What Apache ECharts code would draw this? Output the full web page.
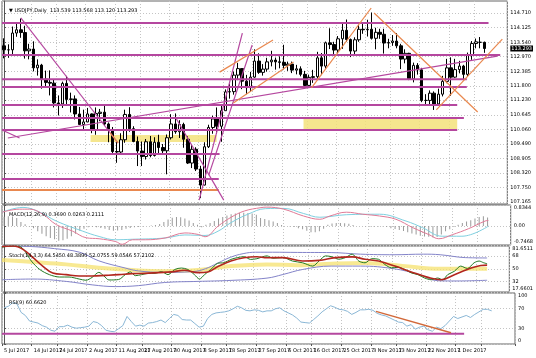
<!DOCTYPE html>
<html><head><meta charset="utf-8">
<script src="https://cdn.jsdelivr.net/npm/echarts@6/dist/echarts.min.js"></script>
<style>html,body{margin:0;padding:0;background:#fff}#c{width:536px;height:358px}</style>
</head><body><div id="c"></div>
<script>
// ---------- categories ----------
const julDays = [5,6,7,10,11,12,13,14,17,18,19,20,21,24,25,26,27,28,31];
const augDays = [1,2,3,4,7,8,9,10,11,14,15,16,17,18,21,22,23,24,25,28,29,30,31];
const sepDays = [1,4,5,6,7,8,11,12,13,14,15,18,19,20,21,22,25,26,27,28,29];
const octDays = [2,3,4,5,6,9,10,11,12,13,16,17,18,19,20,23,24,25,26,27,30,31];
const novDays = [1,2,3,6,7,8,9,10,13,14,15,16,17,20,21,22,23,24,27,28,29,30];
const decDays = [1,4,5,6,7,8,11,12,13];
const futureDates = ['14 Dec 2017','15 Dec 2017','18 Dec 2017','19 Dec 2017','20 Dec 2017'];
const dates = [].concat(
  julDays.map(d => d + ' Jul 2017'), augDays.map(d => d + ' Aug 2017'),
  sepDays.map(d => d + ' Sep 2017'), octDays.map(d => d + ' Oct 2017'),
  novDays.map(d => d + ' Nov 2017'), decDays.map(d => d + ' Dec 2017'));
const allDates = dates.concat(futureDates);
const tickDates = ['5 Jul 2017','14 Jul 2017','24 Jul 2017','2 Aug 2017','11 Aug 2017','21 Aug 2017','30 Aug 2017','8 Sep 2017','18 Sep 2017','27 Sep 2017','6 Oct 2017','16 Oct 2017','25 Oct 2017','3 Nov 2017','13 Nov 2017','22 Nov 2017','1 Dec 2017','11 Dec 2017'];

// ---------- prices ----------
const opens = [
113.40,113.24,113.24,113.91,114.04,113.93,113.20,113.27,112.52,112.63,
112.07,111.94,111.91,111.12,111.08,111.90,111.26,111.28,110.68,110.26,
110.36,110.68,110.04,110.70,110.75,110.28,110.05,109.18,109.16,109.65,
110.66,110.09,109.58,109.20,108.98,109.57,109.02,109.55,109.34,109.21,
109.73,110.28,109.97,110.26,109.67,108.72,109.27,108.48,107.84,109.37,
110.14,110.48,110.19,110.81,111.56,111.57,112.23,112.49,111.99,111.73,
112.15,112.79,112.34,112.47,112.76,112.83,112.76,112.74,112.62,112.67,
112.43,112.48,112.26,111.82,112.14,112.17,112.92,112.59,113.52,113.45,
113.23,113.68,114.02,113.65,113.19,113.64,114.06,114.04,114.06,113.70,
113.94,113.86,113.51,113.53,113.59,113.40,112.87,113.10,112.08,112.62,
112.44,111.22,111.22,111.51,111.08,111.47,111.98,112.52,112.15,112.45,
112.59,112.26,113.05,113.49,113.54,113.539];
const highs = [
113.70,113.46,114.17,114.31,114.49,114.20,113.48,113.58,112.86,112.68,
112.41,112.42,112.04,111.42,111.97,112.20,111.53,111.42,110.96,110.85,
110.92,110.70,110.94,110.88,111.05,110.34,110.16,109.58,109.91,110.85,
110.95,110.19,109.78,109.58,109.68,109.80,109.75,109.85,109.48,109.86,
110.67,110.70,110.43,110.33,109.79,109.47,109.35,108.61,109.55,110.25,
110.61,110.94,111.02,111.66,111.88,112.37,112.72,112.50,112.24,112.36,
113.26,113.10,112.67,112.92,113.20,112.93,112.98,113.44,112.77,112.77,
112.64,112.58,112.40,112.25,112.44,113.16,113.11,113.57,114.10,113.56,
113.79,114.29,114.45,113.69,113.74,114.24,114.34,114.44,114.73,114.12,
114.08,114.08,113.68,113.83,113.91,113.48,113.26,113.12,112.73,112.71,
112.52,111.47,111.62,111.58,111.69,112.20,112.88,112.94,112.88,112.80,
112.64,113.13,113.59,113.69,113.75,113.568];
const lows = [
112.90,112.92,113.06,113.76,113.72,112.89,112.86,112.38,112.21,111.69,
111.79,111.42,110.94,110.62,110.92,111.02,110.74,110.46,110.25,110.06,
110.35,109.91,109.85,110.39,110.20,109.55,109.05,108.73,109.07,109.53,
109.97,109.55,108.60,108.60,108.86,108.95,108.98,109.11,109.07,108.27,
109.66,109.89,109.72,109.33,108.68,108.52,108.40,107.32,107.83,109.32,
109.89,109.88,109.57,110.81,111.29,111.45,112.03,111.67,111.47,111.56,
112.12,112.28,112.21,112.37,112.58,112.45,112.50,112.46,112.40,112.31,
112.26,112.18,111.69,111.81,111.92,112.09,112.23,112.49,113.27,113.03,
113.10,113.28,113.56,112.95,113.03,113.56,113.88,113.77,113.65,113.26,
113.68,113.09,113.30,113.40,113.30,112.47,112.70,112.03,111.94,112.25,
111.15,111.07,111.06,110.84,111.00,111.38,111.91,111.40,112.12,112.30,
112.03,112.17,112.84,113.30,113.30,113.120];
const closes = [
113.24,113.24,113.91,114.04,113.93,113.20,113.27,112.52,112.63,112.07,
111.94,111.91,111.12,111.08,111.90,111.26,111.28,110.68,110.26,110.36,
110.68,110.04,110.70,110.75,110.28,110.05,109.18,109.16,109.65,110.66,
110.09,109.58,109.20,108.98,109.57,109.02,109.55,109.34,109.21,109.73,
110.28,109.97,110.26,109.67,108.72,109.27,108.48,107.84,109.37,110.14,
110.48,110.19,110.81,111.56,111.57,112.23,112.49,111.99,111.73,112.15,
112.79,112.34,112.47,112.76,112.83,112.76,112.74,112.62,112.67,112.43,
112.48,112.26,111.82,112.14,112.17,112.92,112.59,113.52,113.45,113.23,
113.68,114.02,113.65,113.19,113.64,114.06,114.04,114.06,113.70,113.94,
113.86,113.51,113.53,113.59,113.40,112.87,113.10,112.08,112.62,112.44,
111.22,111.22,111.51,111.08,111.47,111.98,112.52,112.15,112.45,112.59,
112.26,113.05,113.49,113.56,113.54,113.293];
const lastPrice = 113.293;
const mainTicks = [114.710,114.125,113.540,112.970,112.385,111.800,111.230,110.645,110.060,109.490,108.905,108.320,107.750,107.165];

// drawn objects (index on date axis, price)
const purpleLevels = [[114.31,-0.5,116.0],[113.03,-0.5,118.8],[112.07,-0.5,110.8],[111.76,-0.5,110.8],[111.04,-0.5,108.5],[110.52,-0.5,110.1],[110.04,-0.5,108.5],[109.08,-0.5,51.6],[108.08,-0.5,51.4]];
const orangeLevels = [[107.64,-0.5,51.4]];
const purpleTrends = [[4.0,114.52,27.3,109.52],[-0.5,110.04,3.7,109.72],[0.9,109.72,118.1,112.99],[41.0,110.56,52.6,107.24],[46.7,107.24,57.05,113.91],[49.0,108.24,59.4,113.43]];
const orangeTrends = [[51.6,112.35,64.4,113.63],[54.9,111.12,69.3,112.75],[73.6,111.72,87.9,114.91],[88.6,114.71,113.4,110.76],[103.5,110.84,119.3,113.67],[25.4,109.92,27.3,109.52]];
const zones = [[20.7,109.84,50.9,109.56],[71.7,110.50,108.5,110.08]];

// ---------- MACD ----------
const macdTicks = [0.8344, 0, -0.7468];
const macdTickText = ['0.8344','0.00','-0.7468'];
const macdHist = [0.37,0.39,0.38,0.32,0.16,0.07,-0.02,-0.08,-0.2,-0.3,
-0.4,-0.47,-0.52,-0.58,-0.56,-0.5,-0.4,-0.3,-0.18,-0.1,
-0.05,-0.03,-0.05,-0.07,-0.1,-0.15,-0.18,-0.17,-0.15,-0.1,
-0.07,-0.05,-0.04,-0.02,0.0,0.02,0.04,0.08,0.16,0.26,
0.33,0.36,0.35,0.3,0.22,0.12,0.05,-0.05,0.05,0.12,
0.2,0.3,0.36,0.42,0.47,0.5,0.52,0.53,0.52,0.5,
0.45,0.32,0.28,0.23,0.18,0.12,0.04,0.0,-0.02,-0.04,
-0.08,-0.12,-0.18,-0.24,-0.24,-0.2,-0.1,0.05,0.1,0.12,
0.12,0.11,0.09,0.04,0.0,0.0,-0.02,-0.03,-0.03,-0.02,
-0.01,-0.04,-0.08,-0.11,-0.15,-0.19,-0.24,-0.29,-0.33,-0.38,
-0.41,-0.42,-0.45,-0.43,-0.33,-0.2,-0.12,-0.04,0.05,0.12,
0.18,0.23,0.3,0.36,0.39,0.34];
const macdMain = [[-0.5,0.55],[3.7,0.67],[6.1,0.67],[9.2,0.47],[12.4,0.06],[16.3,-0.2],[19.5,-0.46],[22.6,-0.5],[26.5,-0.61],[28.1,-0.72],[30.5,-0.54],[33.6,-0.54],[38.3,-0.47],[43,-0.27],[46.2,-0.33],[47.8,-0.42],[50.9,0],[54,0.35],[57.2,0.6],[61.1,0.73],[62.5,0.75],[66.5,0.67],[71.2,0.4],[75.1,0.27],[77.5,0.4],[81.4,0.55],[85.3,0.47],[89.3,0.4],[93.2,0.27],[97.2,-0.06],[101.1,-0.34],[103.4,-0.5],[106.6,-0.34],[110.5,-0.1],[114.4,0.2],[115.2,0.22]];
const macdSignal = [[-0.5,0.55],[4.5,0.74],[8.5,0.55],[12.4,0.2],[18.7,-0.2],[22.6,-0.41],[26.5,-0.54],[30.5,-0.52],[38.3,-0.47],[43,-0.35],[47.8,-0.37],[50.9,-0.2],[54,0.14],[58,0.47],[62.2,0.69],[66.5,0.7],[71.2,0.5],[75.1,0.35],[81.4,0.45],[89.3,0.47],[95.6,0.2],[99.5,-0.06],[104.2,-0.4],[108.9,-0.4],[115.2,0]];

// ---------- Stochastic ----------
const stochTicks = [81.6511, 68, 50, 32, 17.6601];
const stochTickText = ['81.6511','68','50','32','17.6601'];
const stochMain = [[-0.5,79.8],[1.4,81.6],[3.7,81],[4.9,75],[6.5,60.7],[8.5,49],[10.8,41.8],[13.2,38.5],[15.5,38.5],[17.9,35.7],[19.5,34],[21,38],[22.6,45],[23.8,40],[25,34.4],[27.3,35],[28.9,41.8],[30.1,45.6],[31.3,40.4],[32.8,41.8],[34.4,43.6],[36,43.6],[37.5,46],[39.1,41.8],[40.7,49],[42.3,51],[43.8,49],[45.4,41.8],[46.6,35.7],[47.8,41.8],[49.3,49],[50.9,57.5],[52.5,58.5],[54.1,63],[55.6,65.4],[57.2,66.8],[58.8,63],[60.3,64],[62.7,67.9],[64.1,64.6],[66.5,65.5],[68.8,60.7],[71.2,58.3],[73.6,53.7],[75.1,60.7],[76.7,67.9],[78.3,66.5],[79.8,63.2],[81.4,65.5],[83,70.3],[84.6,60.7],[86.1,58.3],[87.7,64],[89.3,63.2],[90.8,56],[92.4,51.3],[94,52],[95.6,49],[97.1,44.2],[98.7,41.8],[100.3,37.1],[101.9,34.7],[103.4,37.1],[104.6,34.7],[105.8,41.8],[107.4,46.5],[108.9,53.7],[110.5,50.4],[112.1,58.3],[113.3,60.7],[114.4,58.3],[115.2,57]];
const stochSignal = [[-0.5,81],[2.2,81.6],[4.5,77],[6.9,65.5],[9.2,53.7],[11.6,44.1],[14.8,41.8],[17.9,39.9],[21,39.9],[24.2,40.8],[27.3,41.8],[30.5,43.2],[33.6,43.6],[36.8,44.6],[39.9,45.6],[43,47.9],[46.2,44.6],[48.6,45.6],[50.9,52.7],[54.1,60.7],[57.2,65.4],[60.3,66.8],[62.7,65.4],[66.5,65.5],[71.2,60.7],[75.1,61.6],[79,65.5],[83,66.5],[86.1,63.2],[89.3,60.7],[93.2,53.7],[97.1,45.6],[101.1,38],[104.2,34.7],[107.4,41.8],[110.5,49],[113.7,54.6],[115.2,55]];
const stochSlow = [[-0.5,62.2],[6.9,59.4],[14.8,56.1],[22.6,51.3],[30.5,48.1],[38.3,46.6],[46.2,48.1],[54.1,53.7],[62.7,56],[70,55],[78,57],[86,58],[95,54],[104,50],[115.2,50]];
const stochUpper = [[-0.5,81.6],[6,81],[12,78],[18,73],[22.6,61],[28.9,51],[32,47],[38,45],[45,46],[48,50],[51,58],[54,66],[57,71],[60,73],[64,73],[70,72.7],[78,72.5],[85,70.3],[93,69.5],[100,70.3],[104,69.5],[110,65.5],[115.2,65]];
const stochLower = [[-0.5,34.7],[6.9,35.7],[14.8,32.4],[21,27.6],[26.5,25.2],[32,26.5],[38.3,30.9],[46.2,32.4],[54.1,33.8],[62.7,37],[66.5,42],[71.2,49],[78,53.7],[85,53.7],[93,50],[99,42],[103.5,33.3],[108,33],[115.2,34]];

// ---------- RSI ----------
const rsiTicks = [100, 70, 30, 0];
const rsiTickText = ['100','70','30','0'];
const rsi = [71,74,81,79,62,56,45,43,41,36, 33,27,25,34,34,37,33,31,32,33,
35,44,42,36,27,25,24,30,36,54, 44,35,37,35,41,42,44,47,42,50,
58,56,48,47,47,40,33,35,50,58, 61,62,63,65,69,74,71,66,65,67,
66,63,65,65,69,71,65,61,57,51, 43,42,41,48,55,63,69,75,72,68,
67,64,58,62,67,67,68,66,60,57, 55,51,47,43,42,35,38,29,33,35,
28,25,33,30,36,45,54,50,53,56, 52,58,63,68,68,65];
const rsiLevel = [[20,-0.5,108.5]];
const rsiTrend = [[87.7,64,105.4,22]];

// ---------- captions ----------
const captions = ['\u25BC USDJPY,Daily  113.539 113.568 113.120 113.293','MACD(12,26,9) 0.3690 0.0263 0.2111','Stoch(14,3,3) 64.5450 48.3890 52.0755 59.0546 57.2102','RSI(9) 60.6620'];

// ---------- build ----------
const PURPLE = '#b5479f', ORANGE = '#e9884f';
const FONT = 'DejaVu Sans';
const isTick = (i) => tickDates.indexOf(allDates[i]) >= 0;
const paneTops = [1, 205, 246, 293];
const paneHeights = [203, 40, 46, 51];

const grids = paneTops.map((t, i) => ({left: 2, top: t, width: 513, height: paneHeights[i], show: true, borderColor: '#666', borderWidth: 1, backgroundColor: '#fff'}));
const gridLine = {type: [1, 2], color: '#c4c4c4', width: 1};

const xAxes = [];
for (let g = 0; g < 4; g++) {
  xAxes.push({type: 'category', gridIndex: g, data: allDates, boundaryGap: true,
    axisLine: {show: false},
    axisTick: {show: g === 3, interval: isTick, length: 2, lineStyle: {color: '#555'}},
    axisLabel: {show: g === 3, interval: isTick, align: 'left', fontSize: 5, margin: 4, color: '#000', fontFamily: FONT},
    splitLine: {show: true, interval: isTick, lineStyle: gridLine}});
}
for (let g = 0; g < 4; g++) {
  xAxes.push({type: 'value', gridIndex: g, min: -0.5, max: allDates.length - 0.5, show: false});
}

function labelAxis(g, min, max, ticks, texts, extraLabels, fmtExtra) {
  const n = ticks.length;
  return {type: 'value', gridIndex: g, position: 'right', min: min, max: max, scale: true,
    axisLine: {show: true, lineStyle: {color: '#555'}},
    axisTick: {show: true, customValues: ticks, length: 2, lineStyle: {color: '#555'}},
    splitLine: {show: true, lineStyle: gridLine},
    axisLabel: {customValues: ticks.concat(extraLabels || []), fontSize: 5, margin: 3, color: '#000', fontFamily: FONT,
      formatter: function (v) {
        if (fmtExtra) { const r = fmtExtra(v); if (r) return r; }
        let idx = 0, best = Infinity;
        ticks.forEach((t, k) => { const d = Math.abs(t - v); if (d < best) { best = d; idx = k; } });
        const s = texts[idx];
        if (g === 0) return s;
        if (idx === 0) return '{dn|' + s + '}';
        if (idx === n - 1) return '{up|' + s + '}';
        return s;
      },
      rich: {
        dn: {padding: [6, 0, 0, 0], fontSize: 5, color: '#000', fontFamily: FONT},
        up: {padding: [0, 0, 6, 0], fontSize: 5, color: '#000', fontFamily: FONT},
        box: {backgroundColor: '#000', color: '#fff', padding: [1, 1, 0, 1], fontSize: 5, fontFamily: FONT}
      }}};
}

const yAxes = [
  labelAxis(0, 107.085, 115.189, mainTicks, mainTicks.map(v => v.toFixed(3)), [lastPrice],
    v => Math.abs(v - lastPrice) < 1e-6 ? '{box|' + lastPrice.toFixed(3) + '}' : null),
  labelAxis(1, macdTicks[2], macdTicks[0], macdTicks, macdTickText),
  labelAxis(2, stochTicks[4], stochTicks[0], stochTicks, stochTickText),
  labelAxis(3, 0, 100, rsiTicks, rsiTickText)
];

const series = [];
// zones (background)
series.push({type: 'line', xAxisIndex: 4, yAxisIndex: 0, data: [], silent: true, z: 1,
  markArea: {silent: true, itemStyle: {color: 'rgba(243,226,122,0.85)'},
    data: zones.map(z => [{coord: [z[0], z[1]]}, {coord: [z[2], z[3]]}])}});
// candles
series.push({type: 'candlestick', xAxisIndex: 0, yAxisIndex: 0, barWidth: 3, z: 3,
  data: opens.map((o, i) => [o, closes[i], lows[i], highs[i]]),
  itemStyle: {color: '#fff', color0: '#000', borderColor: '#000', borderColor0: '#000', borderWidth: 1}});
function seg(xi, yi, pts, color, width, z) {
  series.push({type: 'line', xAxisIndex: xi, yAxisIndex: yi, data: pts, symbol: 'none', silent: true, z: z || 5,
    lineStyle: {color: color, width: width}});
}
purpleLevels.forEach(l => seg(4, 0, [[l[1], l[0]], [l[2], l[0]]], PURPLE, 2));
orangeLevels.forEach(l => seg(4, 0, [[l[1], l[0]], [l[2], l[0]]], ORANGE, 2));
purpleTrends.forEach(t => seg(4, 0, [[t[0], t[1]], [t[2], t[3]]], PURPLE, 1.2));
orangeTrends.forEach(t => seg(4, 0, [[t[0], t[1]], [t[2], t[3]]], ORANGE, 1.2));

// MACD
series.push({type: 'bar', xAxisIndex: 1, yAxisIndex: 1, data: macdHist, barWidth: 1, itemStyle: {color: '#9a9a9a'}, silent: true});
series.push({type: 'line', xAxisIndex: 5, yAxisIndex: 1, data: macdSignal, symbol: 'none', smooth: 0.4, lineStyle: {color: '#7fd0e0', width: 1}});
series.push({type: 'line', xAxisIndex: 5, yAxisIndex: 1, data: macdMain, symbol: 'none', smooth: 0.4, lineStyle: {color: '#e07a96', width: 1}});

// Stochastic
series.push({type: 'line', xAxisIndex: 6, yAxisIndex: 2, data: stochSlow, symbol: 'none', smooth: 0.4, lineStyle: {color: 'rgba(245,225,110,0.75)', width: 4}});
series.push({type: 'line', xAxisIndex: 6, yAxisIndex: 2, data: stochUpper, symbol: 'none', smooth: 0.4, lineStyle: {color: '#8383c9', width: 1}});
series.push({type: 'line', xAxisIndex: 6, yAxisIndex: 2, data: stochLower, symbol: 'none', smooth: 0.4, lineStyle: {color: '#8383c9', width: 1}});
series.push({type: 'line', xAxisIndex: 6, yAxisIndex: 2, data: stochMain, symbol: 'none', smooth: 0.3, lineStyle: {color: '#237a23', width: 1}});
series.push({type: 'line', xAxisIndex: 6, yAxisIndex: 2, data: stochSignal, symbol: 'none', smooth: 0.4, lineStyle: {color: '#b3261e', width: 1.6}});

// RSI
rsiLevel.forEach(l => seg(7, 3, [[l[1], l[0]], [l[2], l[0]]], PURPLE, 2, 2));
series.push({type: 'line', xAxisIndex: 3, yAxisIndex: 3, data: rsi, symbol: 'none', lineStyle: {color: '#8ab7d6', width: 1}, z: 3});
rsiTrend.forEach(t => seg(7, 3, [[t[0], t[1]], [t[2], t[3]]], '#d2693a', 1.4, 4));

const titles = captions.map((c, i) => ({text: c, left: 4, top: paneTops[i] + 2,
  textStyle: {fontSize: 5, fontWeight: 'normal', color: '#000', fontFamily: FONT}}));

const chart = echarts.init(document.getElementById('c'), null, {renderer: 'canvas'});
chart.setOption({
  animation: false,
  backgroundColor: '#fff',
  textStyle: {fontFamily: FONT},
  title: titles,
  grid: grids,
  xAxis: xAxes,
  yAxis: yAxes,
  series: series
});
</script>
</body></html>
